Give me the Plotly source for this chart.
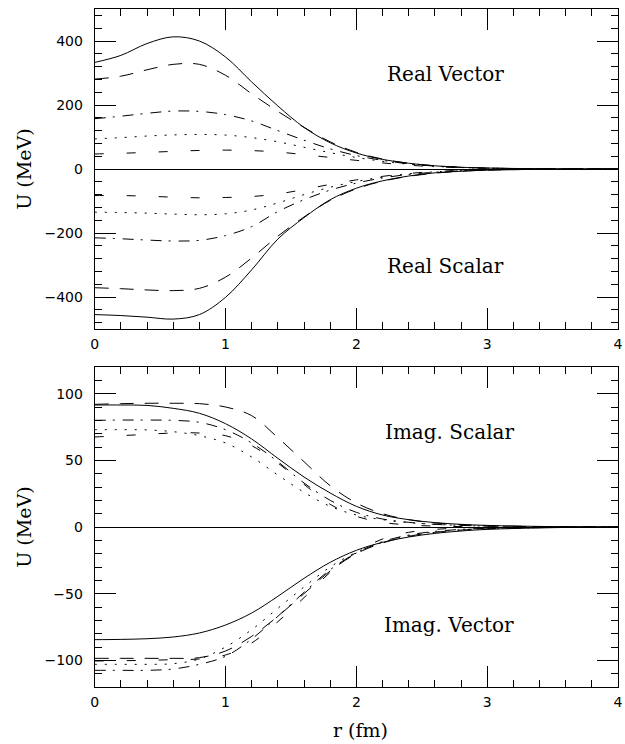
import plotly.graph_objects as go

# radial grid (fm) shared by all curves
r = [0.0, 0.2, 0.4, 0.6, 0.8, 1.0, 1.2, 1.4, 1.6, 1.8, 2.0, 2.2, 2.4, 2.6, 2.8, 3.0, 3.5, 4.0]

# Real vector potentials (MeV)
rv_solid = [333, 355, 392, 413, 400, 350, 272, 197, 130, 82, 50, 30, 18, 10, 5.5, 3, 0.6, 0]
rv_long = [281, 290, 310, 327, 327, 293, 235, 180, 130, 85, 52, 31, 18, 10, 5.5, 3, 0.6, 0]
rv_dashdot = [157, 165, 174, 181, 180, 170, 150, 120, 90, 63, 42, 27, 16, 9, 5, 2.7, 0.5, 0]
rv_dot = [94, 98, 103, 106.5, 108, 106, 98, 85, 68, 51, 36, 24, 15, 8.5, 4.7, 2.5, 0.5, 0]
rv_short = [47, 49, 52, 55, 58, 59, 57.5, 53, 45, 36, 27, 19, 12, 7, 4, 2.2, 0.4, 0]

# Real scalar potentials (MeV)
rs_solid = [-455, -458, -463, -469, -455, -401, -315, -219, -152, -96, -60, -37, -22, -12, -7, -3.5, -0.7, 0]
rs_long = [-371, -374, -378, -380, -373, -338, -278, -210, -150, -98, -62, -38, -23, -13, -7, -3.7, -0.7, 0]
rs_dashdot = [-215, -218, -222, -225, -223, -208, -180, -133, -96, -66, -44, -28, -17, -10, -5.5, -3, -0.5, 0]
rs_dot = [-135, -136, -138, -141, -143, -140, -128, -106, -80, -57, -39, -25, -15, -9, -5, -2.7, -0.5, 0]
rs_short = [-83, -83, -85, -88, -90, -89, -86, -78, -64, -48, -34, -23, -14, -8, -4.5, -2.4, -0.4, 0]

# Imaginary scalar potentials (MeV)
is_solid = [91.5, 91.5, 91.2, 89, 85.3, 77.5, 66, 51.5, 37.5, 25.5, 15.5, 9, 5.5, 3.3, 2, 1.2, 0.3, 0]
is_long = [92, 92.5, 92.8, 92.8, 92.5, 90, 83.5, 67, 49, 31, 18, 10, 5.5, 3, 1.7, 1, 0.2, 0]
is_dashdot = [80, 80.2, 80.2, 80, 78.5, 73, 63, 49, 33, 20, 11, 6, 3.5, 2, 1.2, 0.7, 0.15, 0]
is_dot = [73, 73, 72.8, 71.5, 68.5, 63, 52.5, 39, 26, 15.5, 9, 5.5, 3.3, 2, 1.2, 0.7, 0.15, 0]
is_short = [67.5, 68.5, 69.5, 70.5, 70.5, 68.5, 61, 48, 32, 17, 8, 3.5, 1.5, 0.7, 0.3, 0.15, 0, 0]

# Imaginary vector potentials (MeV)
iv_solid = [-84.5, -84.3, -83.8, -82.5, -79.5, -73.5, -64.5, -52, -38.5, -26.5, -17.5, -11.5, -7.5, -4.8, -3, -1.8, -0.5, 0]
iv_long = [-98.5, -98.5, -98.5, -98.5, -98, -93, -82, -67, -50, -33, -20, -12, -7, -4, -2.3, -1.3, -0.3, 0]
iv_dot = [-103, -103, -103, -102.5, -99, -90, -77, -61, -45, -30, -19, -11.5, -6.5, -3.8, -2.1, -1.2, -0.3, 0]
iv_dashdot = [-107.5, -107.5, -107.5, -106.5, -103, -97, -84, -67, -49, -32, -19.5, -11, -6, -3.3, -1.8, -1, -0.2, 0]
iv_short = [-100.5, -100.3, -100, -99.5, -99, -96, -87, -71, -53, -34, -19, -9, -4, -1.8, -0.8, -0.4, -0.1, 0]

x_ticks = [0, 1, 2, 3, 4]

dash_styles = {
    "solid": "solid",
    "long": "14px,11px",
    "dashdot": "11px,7px,2px,8px",
    "dot": "2px,8px",
    "short": "9px,23px",
}

top_curves = [
    (rv_solid, "solid"), (rv_long, "long"), (rv_dashdot, "dashdot"), (rv_dot, "dot"), (rv_short, "short"),
    (rs_solid, "solid"), (rs_long, "long"), (rs_dashdot, "dashdot"), (rs_dot, "dot"), (rs_short, "short"),
]
bottom_curves = [
    (is_solid, "solid"), (is_long, "long"), (is_dashdot, "dashdot"), (is_dot, "dot"), (is_short, "short"),
    (iv_solid, "solid"), (iv_long, "long"), (iv_dashdot, "dashdot"), (iv_dot, "dot"), (iv_short, "short"),
]

fig = go.Figure()

for ys, style in top_curves:
    fig.add_trace(go.Scatter(
        x=r, y=ys, mode="lines", xaxis="x", yaxis="y",
        line=dict(color="black", width=1, dash=dash_styles[style], shape="spline", smoothing=1),
        showlegend=False, hoverinfo="skip"))

for ys, style in bottom_curves:
    fig.add_trace(go.Scatter(
        x=r, y=ys, mode="lines", xaxis="x2", yaxis="y2",
        line=dict(color="black", width=1, dash=dash_styles[style], shape="spline", smoothing=1),
        showlegend=False, hoverinfo="skip"))

W, H = 625, 744
x_dom = [92 / W, 623 / W]
top_dom = [1 - 329 / H, 1 - 9 / H]
bot_dom = [1 - 687 / H, 1 - 367 / H]

tick_font = dict(family="DejaVu Sans", size=14, color="black")
text_font = dict(family="DejaVu Serif", size=20, color="black")
title_font = dict(family="DejaVu Serif", size=19, color="black")


def x_axis(anchor, dom):
    return dict(
        domain=dom, anchor=anchor, range=[0, 4], tickvals=x_ticks,
        ticks="inside", ticklen=21, tickwidth=1, tickcolor="black",
        minor=dict(dtick=0.2, tick0=0, ticks="inside", ticklen=7, tickwidth=1, tickcolor="black"),
        showline=True, linecolor="black", linewidth=1, mirror="ticks",
        showgrid=False, zeroline=False, tickfont=tick_font,
        ticklabelstandoff=2, ticklabeloverflow="allow",
    )


def y_axis(anchor, dom, rng, dtick, minor):
    return dict(
        domain=dom, anchor=anchor, range=rng, dtick=dtick, tick0=0,
        ticks="inside", ticklen=21, tickwidth=1, tickcolor="black",
        minor=dict(dtick=minor, tick0=0, ticks="inside", ticklen=7, tickwidth=1, tickcolor="black"),
        showline=True, linecolor="black", linewidth=1, mirror="ticks",
        showgrid=False, zeroline=True, zerolinecolor="black", zerolinewidth=1,
        tickfont=tick_font, ticklabelstandoff=8,
    )


fig.update_layout(
    width=W, height=H,
    margin=dict(l=0, r=0, t=0, b=0),
    paper_bgcolor="white", plot_bgcolor="white",
    xaxis=x_axis("y", x_dom),
    yaxis=y_axis("x", top_dom, [-500, 500], 200, 40),
    xaxis2=x_axis("y2", x_dom),
    yaxis2=y_axis("x2", bot_dom, [-120, 120], 50, 10),
)

panel_labels = [
    ("x", "y", 2.68, 297, "Real Vector"),
    ("x", "y", 2.68, -303, "Real Scalar"),
    ("x2", "y2", 2.71, 71, "Imag. Scalar"),
    ("x2", "y2", 2.71, -73.5, "Imag. Vector"),
]
for xr, yr, xv, yv, txt in panel_labels:
    fig.add_annotation(x=xv, y=yv, xref=xr, yref=yr, text=txt, showarrow=False,
                       xanchor="center", yanchor="middle", font=text_font)

# axis titles
for yc in [1 - 169 / H, 1 - 527 / H]:
    fig.add_annotation(x=20 / W, y=yc, xref="paper", yref="paper", text="U (MeV)",
                       textangle=-90, showarrow=False, xanchor="center", yanchor="middle",
                       font=title_font)
fig.add_annotation(x=362 / W, y=1 - 730 / H, xref="paper", yref="paper", text="r (fm)",
                   showarrow=False, xanchor="center", yanchor="middle", font=title_font)

fig.write_html("out.html")
